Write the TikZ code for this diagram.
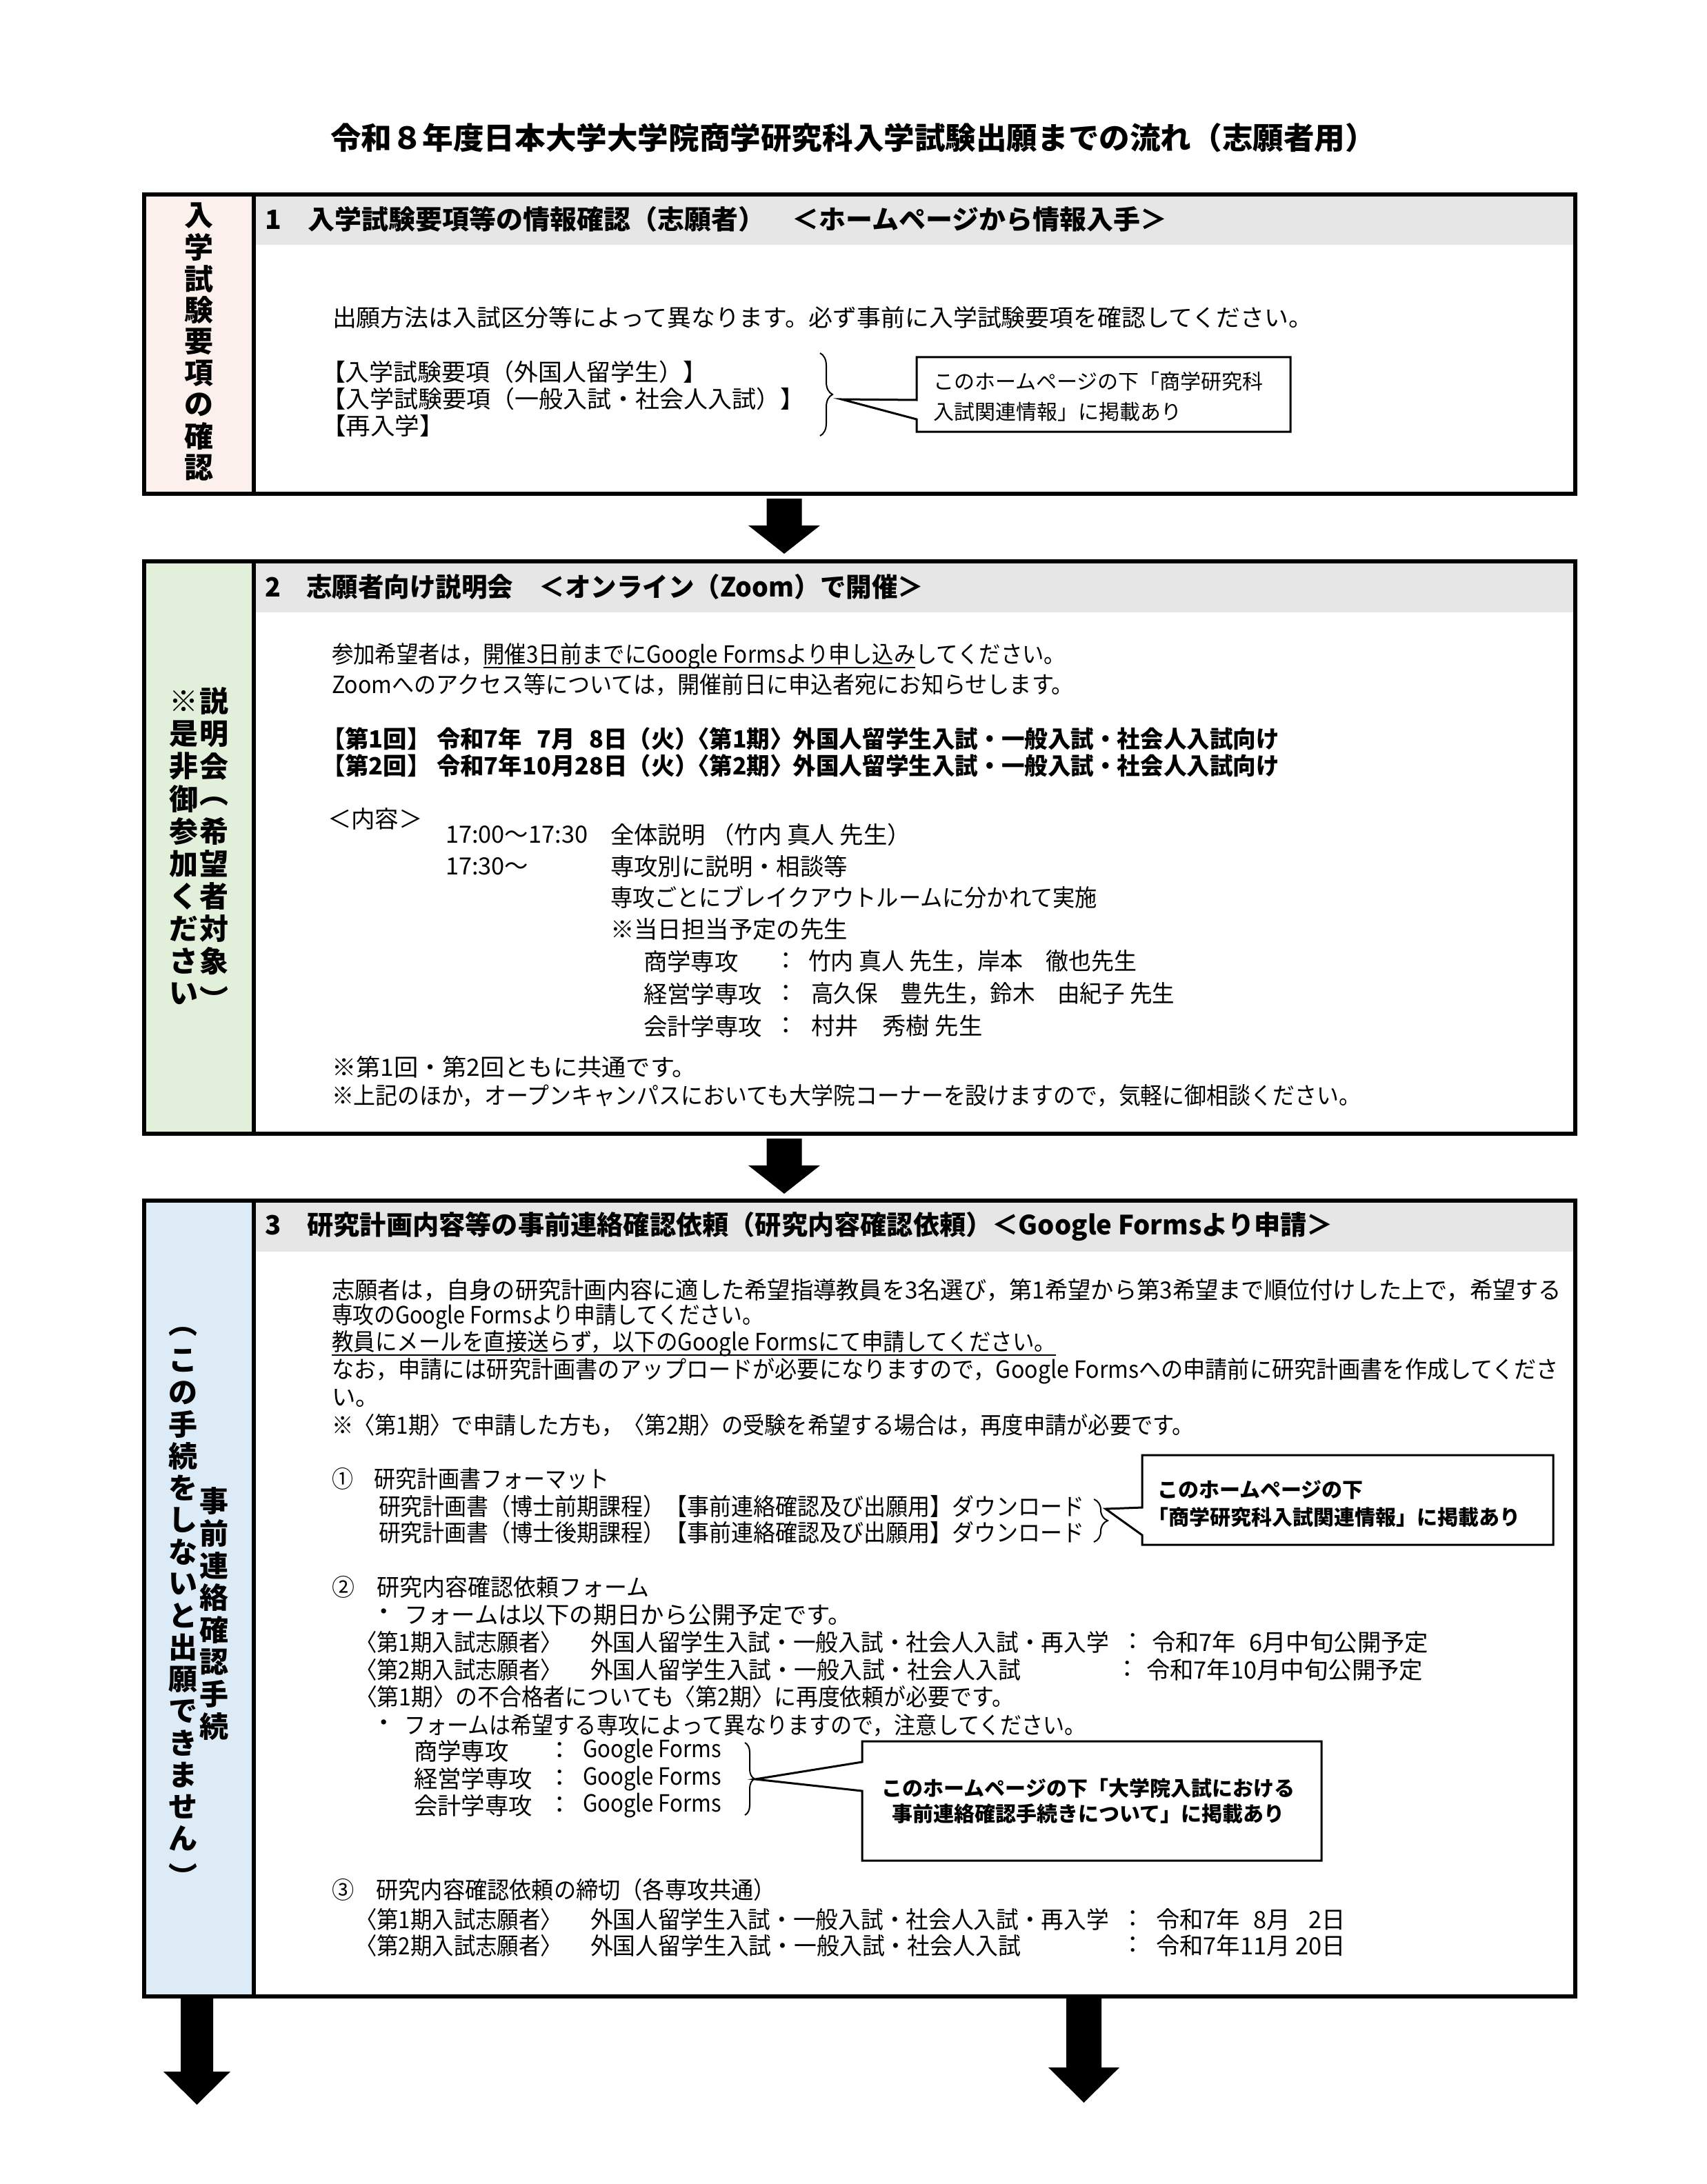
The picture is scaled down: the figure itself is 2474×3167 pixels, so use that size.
\documentclass[tikz,border=0pt]{standalone}
\usepackage{fontspec}
\usepackage{graphicx}
\setmainfont{Noto Sans CJK JP}
\usetikzlibrary{decorations.pathreplacing}
\definecolor{sidepink}{RGB}{251,240,235}
\definecolor{sidegreen}{RGB}{226,239,218}
\definecolor{sideblue}{RGB}{221,235,247}
\definecolor{headgray}{RGB}{230,230,230}
\newlength\pxu
\setlength\pxu{0.25pt}
\newcommand\fitw[2]{\resizebox{#1\pxu}{\height}{#2}}
\newcommand\ulx[1]{\setbox0\hbox{#1}\rlap{\rule[-0.22em]{\wd0}{0.06em}}\box0}
\newcommand\fTitle{\bfseries\fontsize{11}{13}\selectfont}
\newcommand\fHead{\bfseries\fontsize{9.6}{11}\selectfont}
\newcommand\fSide{\bfseries\fontsize{10.5}{12}\selectfont}
\newcommand\fBody{\fontsize{8.6}{10}\selectfont}
\newcommand\fBodyB{\bfseries\fontsize{8.6}{10}\selectfont}
\newcommand\fCalA{\fontsize{7.5}{9}\selectfont}
\newcommand\fCalB{\bfseries\fontsize{7.5}{9}\selectfont}
\newcommand\blockarr[6]{\fill ({#1-#5},#2) -- ({#1+#5},#2) -- ({#1+#5},#3) -- ({#1+#6},#3) -- (#1,#4) -- ({#1-#6},#3) -- ({#1-#5},#3) -- cycle;}
\begin{document}
\begin{tikzpicture}[x=0.25pt,y=-0.25pt,
  every node/.style={inner sep=0pt,outer sep=0pt},
  txt/.style={anchor=west,font=\fBody},
  txtb/.style={anchor=west,font=\fBodyB},
  hdtext/.style={anchor=west,font=\fHead},
  sidetext/.style={font=\fSide},
  boxframe/.style={line width=1.5pt},
  calloutbox/.style={draw,fill=white,line width=0.75pt,line join=miter},
  bracex/.style={decorate,decoration={brace,amplitude=#1},line width=0.5pt}]
\useasboundingbox (0,0) rectangle (2474,3167);
\fill[white] (0,0) rectangle (2474,3167);

% title
\node[font=\fTitle] (title) at (1237,200) {\fitw{1516}{令和８年度日本大学大学院商学研究科入学試験出願までの流れ（志願者用）}};

% ================= box 1
\coordinate (b1nw) at (209,282); \coordinate (b1se) at (2284,716);
\fill[sidepink] (209,282) rectangle (368,716);
\fill[headgray] (368,282) rectangle (2284,355);
\draw[boxframe] (b1nw) rectangle (b1se);
\draw[boxframe] (368,282) -- (368,716);
\node[hdtext] (h1) at (384,318) {\fitw{1308}{1　入学試験要項等の情報確認（志願者）　＜ホームページから情報入手＞}};
\foreach \c [count=\i from 0] in {入,学,試,験,要,項,の,確,認}
  \node[sidetext] (s1-\i) at (288,{313+45.6*\i}) {\c};
\node[txt] (b1a) at (482,460) {\fitw{1421}{出願方法は入試区分等によって異なります。必ず事前に入学試験要項を確認してください。}};
\node[txt] (b1b) at (466,539) {\fitw{559}{【入学試験要項（外国人留学生）】}};
\node[txt] (b1c) at (466,578) {\fitw{701}{【入学試験要項（一般入試・社会人入試）】}};
\node[txt] (b1d) at (466,617) {\fitw{178}{【再入学】}};
\draw[bracex=4.5pt] (1189,512) -- (1189,632);
\draw[calloutbox] (1329,518) -- (1871,518) -- (1871,626) -- (1329,626) -- (1329,608) -- (1220,579) -- (1329,580) -- cycle;
\node[anchor=west,font=\fCalA] (c1a) at (1353,553) {このホームページの下「商学研究科};
\node[anchor=west,font=\fCalA] (c1b) at (1353,597) {入試関連情報」に掲載あり};

% arrow 1
\blockarr{1137}{723}{762}{803}{25.5}{52}

% ================= box 2
\coordinate (b2nw) at (209,814); \coordinate (b2se) at (2284,1644);
\fill[sidegreen] (209,814) rectangle (368,1644);
\fill[headgray] (368,814) rectangle (2284,888);
\draw[boxframe] (b2nw) rectangle (b2se);
\draw[boxframe] (368,814) -- (368,1644);
\node[hdtext] (h2) at (384,851) {\fitw{955}{2　志願者向け説明会　＜オンライン（Zoom）で開催＞}};
\foreach \c [count=\i from 0] in {説,明,会,{},希,望,者,対,象,{}}
  \node[sidetext] (s2r-\i) at (310,{1017+47.1*\i}) {\c};
\node[sidetext,rotate=-90] (s2p1) at (310,{1017+47.1*3-9}) {（};
\node[sidetext,rotate=-90] (s2p2) at (310,{1017+47.1*9+9}) {）};
\foreach \c [count=\i from 0] in {※,是,非,御,参,加,く,だ,さ,い}
  \node[sidetext] (s2l-\i) at (266,{1017+47.1*\i}) {\c};
\node[txt] (b2a) at (481,951) {\fitw{1064}{参加希望者は，\ulx{開催3日前までにGoogle Formsより申し込み}してください。}};
\node[txt] (b2b) at (481,993) {\fitw{1076}{Zoomへのアクセス等については，開催前日に申込者宛にお知らせします。}};
\node[txtb] (b2c1) at (466,1071) {【第1回】};
\node[txtb] (b2c2) at (633,1071) {令和7年\phantom{1}7月\phantom{2}8日（火）};
\node[txtb] (b2c3) at (995,1071) {\fitw{860}{〈第1期〉外国人留学生入試・一般入試・社会人入試向け}};
\node[txtb] (b2d1) at (466,1110) {【第2回】};
\node[txtb] (b2d2) at (633,1110) {令和7年10月28日（火）};
\node[txtb] (b2d3) at (995,1110) {\fitw{860}{〈第2期〉外国人留学生入試・一般入試・社会人入試向け}};
\node[txt] (b2e) at (475,1187) {＜内容＞};
\node[txt] (b2f1) at (646,1210) {17:00〜17:30};
\node[txt] (b2f2) at (885,1210) {全体説明 （竹内 真人 先生）};
\node[txt] (b2g1) at (646,1256) {17:30〜};
\node[txt] (b2g2) at (885,1256) {専攻別に説明・相談等};
\node[txt] (b2h) at (885,1301) {\fitw{706}{専攻ごとにブレイクアウトルームに分かれて実施}};
\node[txt] (b2i) at (885,1347) {※当日担当予定の先生};
\node[txt] (b2j1) at (933,1394) {商学専攻};
\node[font=\fBody] (b2j2) at (1140,1394) {：};
\node[txt] (b2j3) at (1172,1394) {\fitw{476}{竹内 真人 先生，岸本　徹也先生}};
\node[txt] (b2k1) at (933,1441) {経営学専攻};
\node[font=\fBody] (b2k2) at (1140,1441) {：};
\node[txt] (b2k3) at (1176,1441) {\fitw{527}{高久保　豊先生，鈴木　由紀子 先生}};
\node[txt] (b2l1) at (933,1488) {会計学専攻};
\node[font=\fBody] (b2l2) at (1140,1488) {：};
\node[txt] (b2l3) at (1176,1488) {村井　秀樹 先生};
\node[txt] (b2m) at (481,1547) {\fitw{529}{※第1回・第2回ともに共通です。}};
\node[txt] (b2n) at (481,1589) {\fitw{1492}{※上記のほか，オープンキャンパスにおいても大学院コーナーを設けますので，気軽に御相談ください。}};

% arrow 2
\blockarr{1137}{1651}{1690}{1731}{25.5}{52}

% ================= box 3
\coordinate (b3nw) at (209,1741); \coordinate (b3se) at (2284,2895);
\fill[sideblue] (209,1741) rectangle (368,2895);
\fill[headgray] (368,1741) rectangle (2284,1815);
\draw[boxframe] (b3nw) rectangle (b3se);
\draw[boxframe] (368,1741) -- (368,2895);
\node[hdtext] (h3) at (384,1778) {\fitw{1549}{3　研究計画内容等の事前連絡確認依頼（研究内容確認依頼）＜Google Formsより申請＞}};
\foreach \c [count=\i from 0] in {{},こ,の,手,続,を,し,な,い,と,出,願,で,き,ま,せ,ん,{}}
  \node[sidetext] (s3l-\i) at (265,{1927+46.2*\i}) {\c};
\node[sidetext,rotate=-90] (s3p1) at (265,{1927-9}) {（};
\node[sidetext,rotate=-90] (s3p2) at (265,{1927+46.2*17+9}) {）};
\foreach \c [count=\i from 0] in {事,前,連,絡,確,認,手,続}
  \node[sidetext] (s3r-\i) at (310,{2177+46.6*\i}) {\c};

\node[txt] (b3a) at (481,1871) {\fitw{1783}{志願者は，自身の研究計画内容に適した希望指導教員を3名選び，第1希望から第3希望まで順位付けした上で，希望する}};
\node[txt] (b3b) at (481,1909) {\fitw{626}{専攻のGoogle Formsより申請してください。}};
\node[txt] (b3c) at (481,1948) {\fitw{1050}{\ulx{教員にメールを直接送らず，以下のGoogle Formsにて申請してください。}}};
\node[txt] (b3d) at (481,1988) {\fitw{1779}{なお，申請には研究計画書のアップロードが必要になりますので，Google Formsへの申請前に研究計画書を作成してくださ}};
\node[txt] (b3e) at (481,2027) {い。};
\node[txt] (b3f) at (481,2067) {\fitw{1250}{※〈第1期〉で申請した方も，〈第2期〉の受験を希望する場合は，再度申請が必要です。}};

\node[txt] (b3g) at (481,2144) {\fitw{402}{①　研究計画書フォーマット}};
\node[txt] (b3h) at (549,2184) {\fitw{1023}{研究計画書（博士前期課程）【事前連絡確認及び出願用】ダウンロード}};
\node[txt] (b3i) at (549,2222) {\fitw{1023}{研究計画書（博士後期課程）【事前連絡確認及び出願用】ダウンロード}};
\draw[bracex=5pt] (1586,2174) -- (1586,2236);
\draw[calloutbox] (1656,2110) -- (2252,2110) -- (2252,2240) -- (1656,2240) -- (1656,2226) -- (1603,2188) -- (1656,2186) -- cycle;
\node[anchor=west,font=\fCalB] (c2a) at (1678,2160) {このホームページの下};
\node[anchor=west,font=\fCalB] (c2b) at (1664,2200) {「商学研究科入試関連情報」に掲載あり};

\node[txt] (b3j) at (481,2301) {\fitw{460}{②　研究内容確認依頼フォーム}};
\node[font=\fBody] (b3k1) at (557,2341) {・};
\node[txt] (b3k2) at (586,2341) {フォームは以下の期日から公開予定です。};
\node[txt] (b3l1) at (515,2381) {\fitw{300}{〈第1期入試志願者〉}};
\node[txt] (b3l2) at (856,2381) {\fitw{752}{外国人留学生入試・一般入試・社会人入試・再入学}};
\node[font=\fBody] (b3l3) at (1643,2381) {：};
\node[txt] (b3l4) at (1670,2381) {令和7年\phantom{1}6月中旬公開予定};
\node[txt] (b3m1) at (515,2421) {\fitw{300}{〈第2期入試志願者〉}};
\node[txt] (b3m2) at (856,2421) {\fitw{624}{外国人留学生入試・一般入試・社会人入試}};
\node[font=\fBody] (b3m3) at (1635,2421) {：};
\node[txt] (b3m4) at (1662,2421) {令和7年10月中旬公開予定};
\node[txt] (b3n) at (515,2460) {\fitw{955}{〈第1期〉の不合格者についても〈第2期〉に再度依頼が必要です。}};
\node[font=\fBody] (b3o1) at (557,2502) {・};
\node[txt] (b3o2) at (586,2502) {\fitw{989}{フォームは希望する専攻によって異なりますので，注意してください。}};
\node[txt] (b3p1) at (600,2539) {商学専攻};
\node[font=\fBody] (b3p2) at (812,2539) {：};
\node[txt] (b3p3) at (845,2539) {\fitw{201}{Google Forms}};
\node[txt] (b3q1) at (600,2579) {経営学専攻};
\node[font=\fBody] (b3q2) at (812,2579) {：};
\node[txt] (b3q3) at (845,2579) {\fitw{201}{Google Forms}};
\node[txt] (b3r1) at (600,2618) {会計学専攻};
\node[font=\fBody] (b3r2) at (812,2618) {：};
\node[txt] (b3r3) at (845,2618) {\fitw{201}{Google Forms}};
\draw[bracex=3.5pt] (1080,2527) -- (1080,2632);
\draw[calloutbox] (1250,2525) -- (1916,2525) -- (1916,2698) -- (1250,2698) -- (1250,2597) -- (1095,2580) -- (1250,2555) -- cycle;
\node[font=\fCalB] (c3a) at (1578,2593) {このホームページの下「大学院入試における};
\node[font=\fCalB] (c3b) at (1578,2630) {事前連絡確認手続きについて」に掲載あり};

\node[txt] (b3s) at (481,2740) {\fitw{644}{③　研究内容確認依頼の締切（各専攻共通）}};
\node[txt] (b3t1) at (515,2783) {\fitw{300}{〈第1期入試志願者〉}};
\node[txt] (b3t2) at (856,2783) {\fitw{752}{外国人留学生入試・一般入試・社会人入試・再入学}};
\node[font=\fBody] (b3t3) at (1643,2783) {：};
\node[txt] (b3t4) at (1676,2783) {令和7年\phantom{1}8月\phantom{1}\ 2日};
\node[txt] (b3u1) at (515,2821) {\fitw{300}{〈第2期入試志願者〉}};
\node[txt] (b3u2) at (856,2821) {\fitw{624}{外国人留学生入試・一般入試・社会人入試}};
\node[font=\fBody] (b3u3) at (1643,2821) {：};
\node[txt] (b3u4) at (1676,2821) {令和7年11月\ 20日};

% bottom arrows
\blockarr{285.5}{2893}{3004}{3052}{23.5}{48.5}
\blockarr{1571.5}{2893}{2998}{3049}{25.5}{51.5}
\end{tikzpicture}
\end{document}
